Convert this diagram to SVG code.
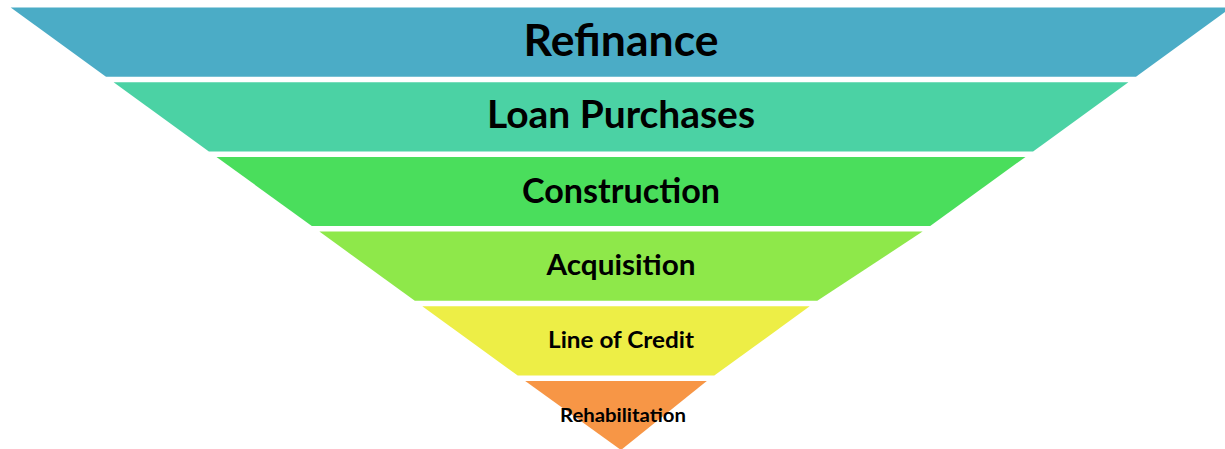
<svg xmlns="http://www.w3.org/2000/svg" width="1225" height="449" viewBox="0 0 1225 449">
  <style>
    .lbl { font-family: Lato, "Open Sans", "Liberation Sans", sans-serif; font-weight: bold; fill: #000000; text-anchor: middle; }
  </style>
  <rect x="0" y="0" width="1225" height="449" fill="#ffffff"/>
  <g id="refinance">
    <polygon points="10.7,7.5 1231.3,7.5 1136.0,76.7 106.0,76.7" fill="#4BACC6"/>
    <text class="lbl" x="621" y="55.7" font-size="43" textLength="195" lengthAdjust="spacingAndGlyphs">Refinance</text>
  </g>
  <g id="loan-purchases">
    <polygon points="113.6,82.2 1128.4,82.2 1033.1,151.4 208.9,151.4" fill="#4BD2A4"/>
    <text class="lbl" x="621" y="128.3" font-size="38.5" textLength="268" lengthAdjust="spacingAndGlyphs">Loan Purchases</text>
  </g>
  <g id="construction">
    <polygon points="216.5,156.9 1025.5,156.9 930.2,226.1 311.8,226.1" fill="#4ADE5C"/>
    <text class="lbl" x="621" y="202.7" font-size="34" textLength="198" lengthAdjust="spacingAndGlyphs">Construction</text>
  </g>
  <g id="acquisition">
    <polygon points="319.4,231.6 922.6,231.6 817.3,300.8 414.8,300.8" fill="#8EE84A"/>
    <text class="lbl" x="621" y="275" font-size="29" textLength="149" lengthAdjust="spacingAndGlyphs">Acquisition</text>
  </g>
  <g id="line-of-credit">
    <polygon points="422.3,306.3 809.7,306.3 714.3,375.5 517.7,375.5" fill="#EDEE46"/>
    <text class="lbl" x="621" y="348.3" font-size="23.5" textLength="146" lengthAdjust="spacingAndGlyphs">Line of Credit</text>
  </g>
  <g id="rehabilitation">
    <polygon points="525.2,381.0 706.8,381.0 621,450" fill="#F79646"/>
    <text class="lbl" x="623" y="422.3" font-size="19" textLength="126" lengthAdjust="spacingAndGlyphs">Rehabilitation</text>
  </g>
  <g id="connectors"></g>
</svg>
